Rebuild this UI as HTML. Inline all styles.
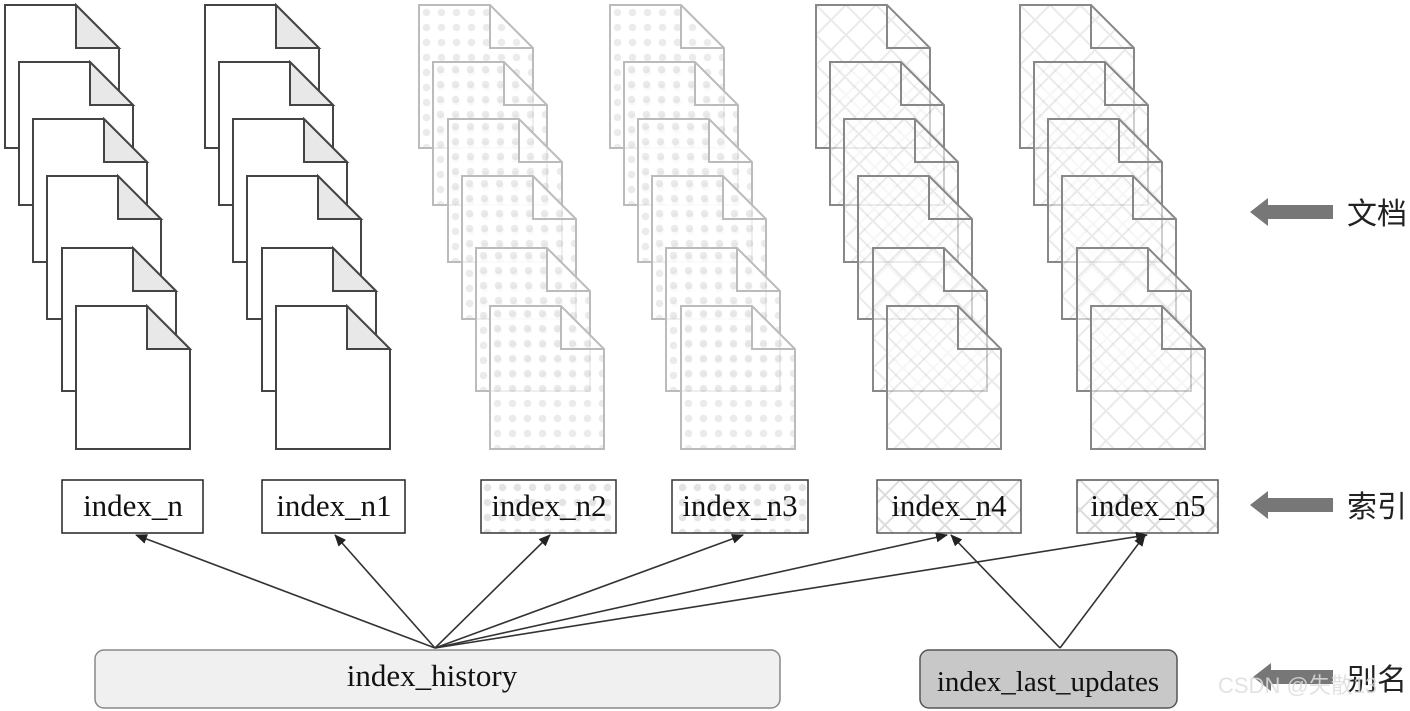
<!DOCTYPE html>
<html><head><meta charset="utf-8"><style>body{margin:0;background:#fff}svg{display:block}</style></head><body>
<svg width="1410" height="711" viewBox="0 0 1410 711" xmlns="http://www.w3.org/2000/svg" font-family="Liberation Serif, serif">
<defs>
<pattern id="dots" width="15" height="15" patternUnits="userSpaceOnUse"><rect width="15" height="15" fill="#fff"/><circle cx="7.5" cy="7.5" r="3.8" fill="#e4e4e4"/></pattern>
<pattern id="cross" width="30" height="30" patternUnits="userSpaceOnUse"><rect width="30" height="30" fill="#fff"/><path d="M0 0L30 30M30 0L0 30" stroke="#dcdcdc" stroke-width="2"/></pattern>
<g id="docW"><path d="M0 0H71L114 43V143H0Z" fill="#fff" stroke="#444" stroke-width="2"/><path d="M71 0V43H114Z" fill="#e8e8e8" stroke="#444" stroke-width="2"/></g>
<g id="docD"><path d="M0 0H71L114 43V143H0Z" fill="url(#dots)" fill-opacity="0.75" stroke="#bbb" stroke-width="2"/><path d="M71 0V43H114" fill="none" stroke="#bbb" stroke-width="2"/></g>
<g id="docX"><path d="M0 0H71L114 43V143H0Z" fill="url(#cross)" fill-opacity="0.6" stroke="#888" stroke-width="2"/><path d="M71 0V43H114" fill="none" stroke="#888" stroke-width="2"/></g>
<marker id="ah" markerWidth="12" markerHeight="10" refX="11" refY="5" orient="auto" markerUnits="userSpaceOnUse"><path d="M0 0L12 5L0 10Z" fill="#222"/></marker>
</defs>
<g>
<use href="#docW" x="5" y="5"/><use href="#docW" x="19" y="62"/><use href="#docW" x="33" y="119"/><use href="#docW" x="47" y="176"/><use href="#docW" x="62" y="248"/><use href="#docW" x="76" y="306"/>
<use href="#docW" x="205" y="5"/><use href="#docW" x="219" y="62"/><use href="#docW" x="233" y="119"/><use href="#docW" x="247" y="176"/><use href="#docW" x="262" y="248"/><use href="#docW" x="276" y="306"/>
<use href="#docD" x="419" y="5"/><use href="#docD" x="433" y="62"/><use href="#docD" x="448" y="119"/><use href="#docD" x="462" y="176"/><use href="#docD" x="476" y="248"/><use href="#docD" x="490" y="306"/>
<use href="#docD" x="610" y="5"/><use href="#docD" x="624" y="62"/><use href="#docD" x="638" y="119"/><use href="#docD" x="652" y="176"/><use href="#docD" x="666" y="248"/><use href="#docD" x="681" y="306"/>
<use href="#docX" x="816" y="5"/><use href="#docX" x="830" y="62"/><use href="#docX" x="844" y="119"/><use href="#docX" x="858" y="176"/><use href="#docX" x="873" y="248"/><use href="#docX" x="887" y="306"/>
<use href="#docX" x="1020" y="5"/><use href="#docX" x="1034" y="62"/><use href="#docX" x="1048" y="119"/><use href="#docX" x="1062" y="176"/><use href="#docX" x="1077" y="248"/><use href="#docX" x="1091" y="306"/>
</g>
<g font-size="31" text-anchor="middle" fill="#111">
<rect x="62" y="480" width="141" height="53" fill="#fff" stroke="#222" stroke-width="1.5"/><text x="133" y="516">index_n</text>
<rect x="262" y="480" width="143" height="53" fill="#fff" stroke="#222" stroke-width="1.5"/><text x="334" y="516">index_n1</text>
<rect x="481" y="480" width="135" height="53" fill="url(#dots)" stroke="#333" stroke-width="1.5"/><text x="549" y="516">index_n2</text>
<rect x="672" y="480" width="136" height="53" fill="url(#dots)" stroke="#333" stroke-width="1.5"/><text x="740" y="516">index_n3</text>
<rect x="877" y="480" width="144" height="53" fill="url(#cross)" stroke="#555" stroke-width="1.5"/><text x="949" y="516">index_n4</text>
<rect x="1077" y="480" width="141" height="53" fill="url(#cross)" stroke="#555" stroke-width="1.5"/><text x="1148" y="516">index_n5</text>
<rect x="95" y="650" width="685" height="58" rx="9" fill="#f0f0f0" stroke="#888" stroke-width="1.5"/><text x="432" y="686">index_history</text>
<rect x="920" y="650" width="257" height="58" rx="9" fill="#c8c8c8" stroke="#555" stroke-width="1.5"/><text x="1048" y="691" font-size="29">index_last_updates</text>
</g>
<g stroke="#333" stroke-width="1.6" marker-end="url(#ah)">
<line x1="435" y1="648" x2="136" y2="535"/><line x1="435" y1="648" x2="335" y2="535"/><line x1="435" y1="648" x2="550" y2="535"/><line x1="435" y1="648" x2="743" y2="535"/><line x1="435" y1="648" x2="947" y2="535"/><line x1="435" y1="648" x2="1147" y2="535"/>
<line x1="1060" y1="648" x2="951" y2="535"/><line x1="1060" y1="648" x2="1145" y2="535"/>
</g>
<g fill="#777">
<path d="M1250 212L1268 198V205H1333V219H1268V226Z"/>
<path d="M1250 505L1268 491V498H1333V512H1268V519Z"/>
<path d="M1253 677L1271 663V670H1333V684H1271V691Z"/>
</g>
<g font-family="Noto Sans CJK SC, sans-serif" font-size="30" fill="#222">
<text x="1347" y="224">文档</text><text x="1347" y="517">索引</text><text x="1347" y="690">别名</text>
</g>
<text x="1218" y="693" font-family="Liberation Sans, Noto Sans CJK SC, sans-serif" font-size="22" fill="#ddd" fill-opacity="0.85">CSDN @失散13</text>
</svg>
</body></html>
